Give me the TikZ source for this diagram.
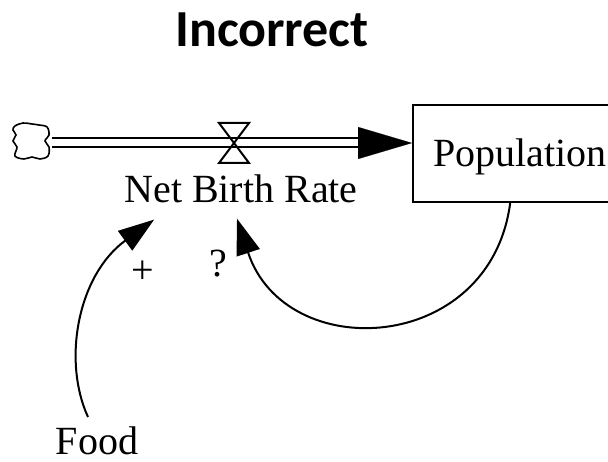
\documentclass[tikz,border=0pt]{standalone}
\usepackage{fontspec}
\setmainfont{Liberation Serif}
\newfontfamily\titlefont{Carlito}
\usetikzlibrary{arrows.meta,calc}
\definecolor{cInk}{HTML}{000000}
\tikzset{
  pipe/.style={draw=cInk,line width=2pt,double=white,double distance=7pt},
  pipehead/.style={draw=cInk,line width=0.1pt,-{Triangle[length=54pt,width=32pt]}},
  link/.style={draw=cInk,line width=2pt,-{Triangle[length=36pt,width=24pt]}},
  stockbox/.style={draw=cInk,line width=2pt,anchor=west,minimum height=97pt,
                   text width=250pt,inner xsep=20pt,align=left,
                   text height=27pt,text depth=0pt,font=\fontsize{40}{48}\selectfont},
  varlabel/.style={inner sep=0pt,font=\fontsize{40}{48}\selectfont},
  signlabel/.style={inner sep=0pt,font=\fontsize{40}{48}\selectfont},
  valveline/.style={draw=cInk,line width=2pt,line join=miter},
  cloudline/.style={draw=cInk,line width=1.6pt},
  cloudsrc/.style={minimum width=40pt,minimum height=38pt,inner sep=0pt}
}
\begin{document}
\begin{tikzpicture}[x=1pt,y=-1pt]
  \useasboundingbox (0,0) rectangle (608,462);
  \node[anchor=base,font=\titlefont\bfseries\fontsize{52}{60}\selectfont] (title) at (272,47) {Incorrect};

  % source cloud
  \node[cloudsrc] (source) at (32,141) {};
  \draw[cloudline,shift={(source.center)}] plot[smooth cycle,tension=0.6] coordinates
    {(-17,-15) (-9,-18) (0,-17) (7,-16) (15,-14) (17,-6) (13,0) (17,6) (16,15)
     (8,18) (0,16) (-8,18) (-17,15) (-15,6) (-19,0) (-16,-6) (-19,-11)};
  \node[stockbox] (pop) at (412,153.5) {Population};
  \coordinate (headbase) at (359,143);
  \draw[pipe] (source.east |- headbase) -- (headbase);
  \draw[pipehead] (headbase) -- (pop.west |- headbase);

  % valve on the flow
  \coordinate (valve) at (234,143);
  \draw[valveline] ($(valve)+(-15,-20)$) -- ++(30,0) -- ($(valve)+(-15,20)$) -- ++(30,0) -- cycle;
  \node[varlabel,anchor=base] (nbr) at (241,203) {Net Birth Rate};

  \node[varlabel,anchor=base] (food) at (97,454) {Food};
  \node[signlabel] (plus) at (143,272) {+};
  \node[signlabel] (query) at (218,264) {?};

  \draw[link] ($(food.north)+(-9,-9)$) .. controls (62,360) and (78,275) .. ($(nbr.south west)+(30,16)$);
  \draw[link] (pop.-134) .. controls (490,355) and (285,365) .. ($(nbr.south)+(-4,15)$);
\end{tikzpicture}
\end{document}
